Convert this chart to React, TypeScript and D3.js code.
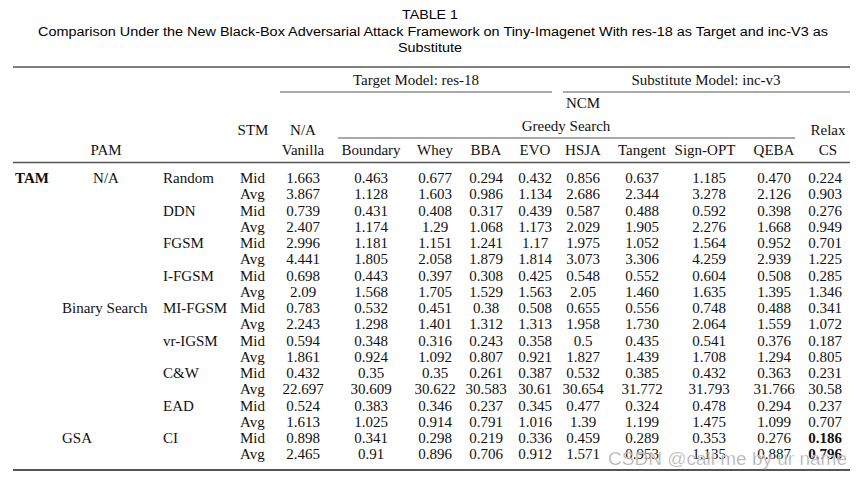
import React, { useEffect, useRef } from 'react'
import * as d3 from 'd3'

const columns = ['Vanilla', 'Boundary', 'Whey', 'BBA', 'EVO', 'HSJA', 'Tangent', 'Sign-OPT', 'QEBA', 'CS']
const methods = ['Random', 'DDN', 'FGSM', 'I-FGSM', 'MI-FGSM', 'vr-IGSM', 'C&W', 'EAD', 'CI']
const stats = ['Mid', 'Avg']
const pamGroups = [
  { label: 'N/A', method: 0 },
  { label: 'Binary Search', method: 4 },
  { label: 'GSA', method: 8 },
]
// one row per method x stat, one entry per column
const values = [
  ['1.663', '0.463', '0.677', '0.294', '0.432', '0.856', '0.637', '1.185', '0.470', '0.224'],
  ['3.867', '1.128', '1.603', '0.986', '1.134', '2.686', '2.344', '3.278', '2.126', '0.903'],
  ['0.739', '0.431', '0.408', '0.317', '0.439', '0.587', '0.488', '0.592', '0.398', '0.276'],
  ['2.407', '1.174', '1.29', '1.068', '1.173', '2.029', '1.905', '2.276', '1.668', '0.949'],
  ['2.996', '1.181', '1.151', '1.241', '1.17', '1.975', '1.052', '1.564', '0.952', '0.701'],
  ['4.441', '1.805', '2.058', '1.879', '1.814', '3.073', '3.306', '4.259', '2.939', '1.225'],
  ['0.698', '0.443', '0.397', '0.308', '0.425', '0.548', '0.552', '0.604', '0.508', '0.285'],
  ['2.09', '1.568', '1.705', '1.529', '1.563', '2.05', '1.460', '1.635', '1.395', '1.346'],
  ['0.783', '0.532', '0.451', '0.38', '0.508', '0.655', '0.556', '0.748', '0.488', '0.341'],
  ['2.243', '1.298', '1.401', '1.312', '1.313', '1.958', '1.730', '2.064', '1.559', '1.072'],
  ['0.594', '0.348', '0.316', '0.243', '0.358', '0.5', '0.435', '0.541', '0.376', '0.187'],
  ['1.861', '0.924', '1.092', '0.807', '0.921', '1.827', '1.439', '1.708', '1.294', '0.805'],
  ['0.432', '0.35', '0.35', '0.261', '0.387', '0.532', '0.385', '0.432', '0.363', '0.231'],
  ['22.697', '30.609', '30.622', '30.583', '30.61', '30.654', '31.772', '31.793', '31.766', '30.58'],
  ['0.524', '0.383', '0.346', '0.237', '0.345', '0.477', '0.324', '0.478', '0.294', '0.237'],
  ['1.613', '1.025', '0.914', '0.791', '1.016', '1.39', '1.199', '1.475', '1.099', '0.707'],
  ['0.898', '0.341', '0.298', '0.219', '0.336', '0.459', '0.289', '0.353', '0.276', '0.186'],
  ['2.465', '0.91', '0.896', '0.706', '0.912', '1.571', '0.953', '1.135', '0.887', '0.796'],
]
const boldCells = [[16, 9], [17, 9]]

const W = 861
const H = 478
const SERIF = '"Liberation Serif", "DejaVu Serif", serif'
const SANS = '"Liberation Sans", Arial, sans-serif'

function App() {
  const ref = useRef<SVGSVGElement>(null)

  useEffect(() => {
    const svg = d3.select(ref.current)
    svg.selectAll('*').remove()

    // column centres
    const x = d3.scaleOrdinal<string, number>()
      .domain(columns)
      .range([303, 371, 435, 486, 535, 583, 642, 709, 774, 825])
    // row centres
    const y = d3.scaleLinear().domain([0, 17]).range([178, 454.3])

    const txt = (g: any, s: string, tx: number, ty: number, anchor = 'middle', size = 15) =>
      g.append('text')
        .attr('x', tx)
        .attr('y', ty)
        .attr('text-anchor', anchor)
        .attr('font-family', SERIF)
        .attr('font-size', size)
        .attr('fill', '#111')
        .text(s)

    // title
    svg.append('text')
      .attr('x', 430).attr('y', 19)
      .attr('text-anchor', 'middle')
      .attr('font-family', SANS).attr('font-size', 12.5)
      .attr('textLength', 56).attr('lengthAdjust', 'spacingAndGlyphs')
      .text('TABLE 1')
    svg.append('text')
      .attr('x', 433).attr('y', 36)
      .attr('text-anchor', 'middle')
      .attr('font-family', SANS).attr('font-size', 12.5)
      .attr('textLength', 790).attr('lengthAdjust', 'spacingAndGlyphs')
      .text('Comparison Under the New Black-Box Adversarial Attack Framework on Tiny-Imagenet With res-18 as Target and inc-V3 as')
    svg.append('text')
      .attr('x', 430).attr('y', 52)
      .attr('text-anchor', 'middle')
      .attr('font-family', SANS).attr('font-size', 12.5)
      .attr('textLength', 64).attr('lengthAdjust', 'spacingAndGlyphs')
      .text('Substitute')

    // rules
    const rule = (x1: number, x2: number, yy: number, w: number) =>
      svg.append('line')
        .attr('x1', x1).attr('x2', x2).attr('y1', yy).attr('y2', yy)
        .attr('stroke', '#555').attr('stroke-width', w)
    rule(13, 850, 67, 1.6)
    rule(280, 552, 92, 1.1)
    rule(563, 850, 92, 1.1)
    rule(338, 795, 138, 1.1)
    rule(13, 850, 162.5, 1.3)
    rule(13, 850, 470, 2)

    // header
    const head = svg.append('g')
    txt(head, 'Target Model: res-18', 416, 85)
    txt(head, 'Substitute Model: inc-v3', 706, 85)
    txt(head, 'NCM', x('HSJA'), 108)
    txt(head, 'Greedy Search', 566, 131)
    txt(head, 'STM', 253, 135)
    txt(head, 'N/A', x('Vanilla'), 135)
    txt(head, 'Relax', 828, 135)
    txt(head, 'PAM', 106, 155)
    columns.forEach(c => txt(head, c, c === 'CS' ? 828 : c === 'Sign-OPT' ? 705 : x(c), 155))

    // body
    const body = svg.append('g')
    txt(body, 'TAM', 15, y(0) + 5, 'start').attr('font-weight', 'bold')
    pamGroups.forEach(p => {
      const yy = y(p.method * 2) + 5
      if (p.label === 'N/A') txt(body, p.label, 106, yy)
      else txt(body, p.label, 62, yy, 'start')
    })
    methods.forEach((m, i) => txt(body, m, 163, y(i * 2) + 5, 'start'))
    values.forEach((row, r) => {
      txt(body, stats[r % 2], 240, y(r) + 5, 'start')
      row.forEach((v, c) => {
        const t = txt(body, v, x(columns[c]), y(r) + 5)
        if (boldCells.some(b => b[0] === r && b[1] === c)) t.attr('font-weight', 'bold')
      })
    })

    // watermark
    svg.append('text')
      .attr('x', 847).attr('y', 465)
      .attr('text-anchor', 'end')
      .attr('font-family', SANS).attr('font-size', 19)
      .attr('fill', '#9a9a9a').attr('fill-opacity', 0.85)
      .attr('stroke', '#fff').attr('stroke-width', 0.6).attr('stroke-opacity', 0.6)
      .text('CSDN @call me by ur name')
  }, [])

  return (
    <svg ref={ref} width={W} height={H} style={{ position: 'absolute', left: 0, top: 0, background: '#fff' }} />
  )
}

export default App
